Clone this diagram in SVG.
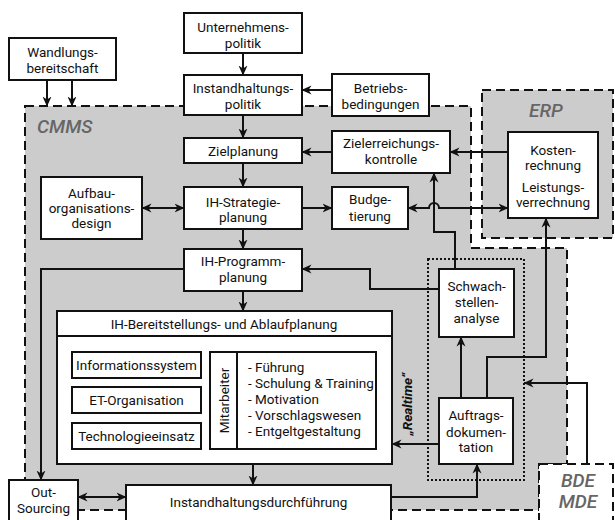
<svg xmlns="http://www.w3.org/2000/svg" width="615" height="520" viewBox="0 0 615 520">
<defs>
<marker id="ah" viewBox="0 0 10 10" refX="9.5" refY="5" markerWidth="10" markerHeight="10" markerUnits="userSpaceOnUse" orient="auto-start-reverse">
<path d="M0,0.5 L10,5 L0,9.5 L3,5 z" fill="#111"/>
</marker>
</defs>
<style>
.b{fill:#fff;stroke:#111;stroke-width:2}
.t{font-family:Roboto,"Liberation Sans",sans-serif;font-size:13.5px;fill:#111;text-anchor:middle}
.tl{font-family:Roboto,"Liberation Sans",sans-serif;font-size:13.5px;fill:#111}
.lbl{font-family:Roboto,"Liberation Sans",sans-serif;font-size:19px;font-style:italic;font-weight:500;fill:#666}
.dash{stroke:#111;stroke-width:2;stroke-dasharray:9,5}
.c{fill:none;stroke:#111;stroke-width:2}
.a{marker-end:url(#ah)}
.aa{marker-start:url(#ah);marker-end:url(#ah)}
</style>
<rect width="615" height="520" fill="#fff"/>
<g id="cmms">
<path d="M25,106 H471 V248 H567 V464 H539 V510 H25 Z" fill="#cccccc" class="dash"/>
<text x="37" y="133" class="lbl">CMMS</text>
</g>
<g id="erp">
<rect x="482" y="90" width="131" height="148" fill="#cccccc" class="dash"/>
<text x="546" y="117" class="lbl" text-anchor="middle">ERP</text>
</g>
<g id="bde">
<rect x="539" y="464" width="74" height="60" fill="#fff" class="dash"/>
<text x="578" y="487" class="lbl" text-anchor="middle">BDE</text>
<text x="578" y="508" class="lbl" text-anchor="middle">MDE</text>
</g>
<g id="dotted">
<rect x="428" y="259" width="96" height="221" fill="none" stroke="#111" stroke-width="2" stroke-dasharray="2,2"/>
</g>
<g id="connectors" class="c">
<path class="a" d="M47,80 V106"/>
<path class="a" d="M72,80 V106"/>
<path class="a" d="M243,53 V75"/>
<path class="a" d="M243,115 V138"/>
<path class="a" d="M332,90 H302"/>
<path class="a" d="M332,152 H302"/>
<path class="a" d="M508,152 H450"/>
<path class="a" d="M243,163 V187"/>
<path class="aa" d="M142,208 H184"/>
<path class="a" d="M302,208 H332"/>
<path class="aa" d="M408,208 H429 A5,5 0 0 1 439,208 H508"/>
<path class="a" d="M455,269 V232 H434 V173"/>
<path class="a" d="M243,229 V249"/>
<path class="a" d="M439,289 H370 V269 H302"/>
<path class="a" d="M184,269 H41 V480"/>
<path class="a" d="M243,291 V311"/>
<path class="a" d="M461,398 V337"/>
<path class="a" d="M487,398 V357 H546 V218"/>
<path class="a" d="M587,464 V383 H524"/>
<path class="a" d="M439,444 H392"/>
<path class="a" d="M253,464 V485"/>
<path class="a" d="M391,497 H477 V464"/>
<path class="aa" d="M78,497 H126"/>
</g>
<g id="wandlung">
<rect x="9" y="38" width="107" height="42" class="b"/>
<text x="62.5" y="57" class="t">Wandlungs-</text>
<text x="62.5" y="73" class="t">bereitschaft</text>
</g>
<g id="unternehmen">
<rect x="184" y="13" width="118" height="40" class="b"/>
<text x="243" y="32" class="t">Unternehmens-</text>
<text x="243" y="48" class="t">politik</text>
</g>
<g id="ihpolitik">
<rect x="184" y="75" width="118" height="40" class="b"/>
<text x="243" y="93" class="t">Instandhaltungs-</text>
<text x="243" y="109" class="t">politik</text>
</g>
<g id="betrieb">
<rect x="332" y="74" width="97" height="42" class="b"/>
<text x="380.5" y="93" class="t">Betriebs-</text>
<text x="380.5" y="109" class="t">bedingungen</text>
</g>
<g id="zielplanung">
<rect x="184" y="138" width="118" height="25" class="b"/>
<text x="243" y="156" class="t">Zielplanung</text>
</g>
<g id="zielerreichung">
<rect x="332" y="131" width="118" height="42" class="b"/>
<text x="391" y="148" class="t">Zielerreichungs-</text>
<text x="391" y="164" class="t">kontrolle</text>
</g>
<g id="kosten">
<rect x="508" y="132" width="90" height="86" class="b"/>
<text x="553" y="155" class="t">Kosten-</text>
<text x="553" y="170" class="t">rechnung</text>
<text x="553" y="192" class="t">Leistungs-</text>
<text x="553" y="207" class="t">verrechnung</text>
</g>
<g id="aufbau">
<rect x="41" y="177" width="101" height="62" class="b"/>
<text x="91.5" y="198" class="t">Aufbau-</text>
<text x="91.5" y="213" class="t">organisations-</text>
<text x="91.5" y="228" class="t">design</text>
</g>
<g id="strategie">
<rect x="184" y="187" width="118" height="42" class="b"/>
<text x="243" y="207" class="t">IH-Strategie-</text>
<text x="243" y="222" class="t">planung</text>
</g>
<g id="budget">
<rect x="332" y="187" width="76" height="42" class="b"/>
<text x="370" y="204" class="t">Budge-</text>
<text x="370" y="221" class="t">tierung</text>
</g>
<g id="programm">
<rect x="184" y="249" width="118" height="42" class="b"/>
<text x="243" y="266" class="t">IH-Programm-</text>
<text x="243" y="282" class="t">planung</text>
</g>
<g id="schwach">
<rect x="439" y="269" width="75" height="68" class="b"/>
<text x="476.5" y="291" class="t">Schwach-</text>
<text x="476.5" y="307" class="t">stellen-</text>
<text x="476.5" y="323" class="t">analyse</text>
</g>
<g id="bereitstellung">
<rect x="57" y="311" width="335" height="153" class="b"/>
<line x1="57" y1="336" x2="392" y2="336" stroke="#111" stroke-width="2"/>
<text x="224" y="329" class="t">IH-Bereitstellungs- und Ablaufplanung</text>
<rect x="72" y="352" width="129" height="26" class="b"/>
<text x="136.5" y="370" class="t">Informationssystem</text>
<rect x="72" y="387" width="129" height="26" class="b"/>
<text x="136.5" y="405" class="t">ET-Organisation</text>
<rect x="72" y="423" width="129" height="26" class="b"/>
<text x="136.5" y="441" class="t">Technologieeinsatz</text>
<rect x="210" y="352" width="166" height="97" class="b"/>
<line x1="237" y1="352" x2="237" y2="449" stroke="#111" stroke-width="2"/>
<text x="0" y="0" class="t" transform="translate(228.5,400.5) rotate(-90)">Mitarbeiter</text>
<text x="248" y="372" class="tl">- Führung</text>
<text x="248" y="388" class="tl">- Schulung &amp; Training</text>
<text x="248" y="404" class="tl">- Motivation</text>
<text x="248" y="420" class="tl">- Vorschlagswesen</text>
<text x="248" y="436" class="tl">- Entgeltgestaltung</text>
</g>
<g id="realtime">
<text x="0" y="0" class="t" font-style="italic" font-weight="bold" font-size="13px" transform="translate(412,404) rotate(-90)">„Realtime“</text>
</g>
<g id="auftrag">
<rect x="439" y="398" width="74" height="66" class="b"/>
<text x="476" y="420" class="t">Auftrags-</text>
<text x="476" y="437" class="t">dokumen-</text>
<text x="476" y="452" class="t">tation</text>
</g>
<g id="outsourcing">
<rect x="9" y="480" width="69" height="44" class="b"/>
<text x="43.5" y="497" class="t">Out-</text>
<text x="43.5" y="513" class="t">Sourcing</text>
</g>
<g id="durchfuehrung">
<rect x="126" y="485" width="265" height="39" class="b"/>
<text x="258.5" y="507" class="t">Instandhaltungsdurchführung</text>
</g>
</svg>
